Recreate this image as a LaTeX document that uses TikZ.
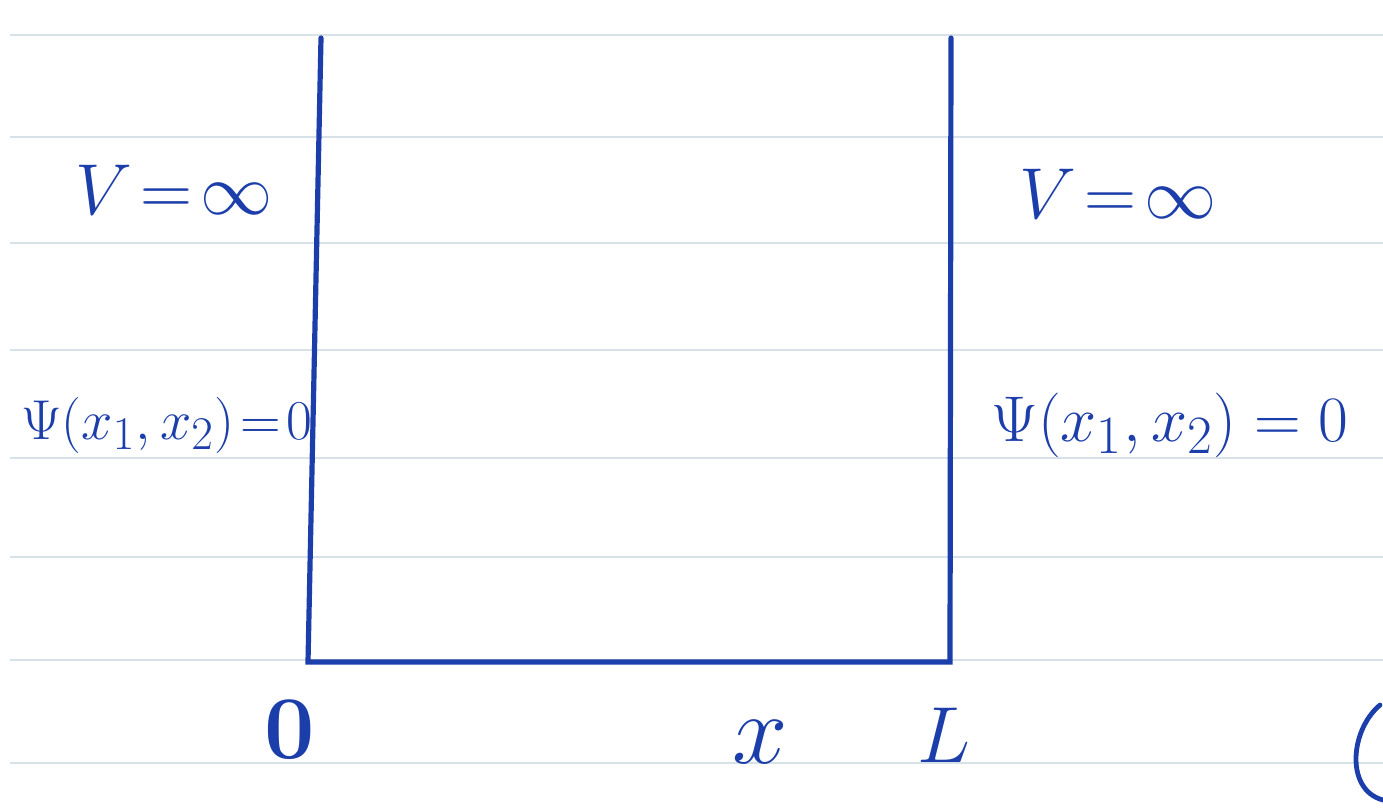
\documentclass[tikz,border=0pt]{standalone}
\usepackage{graphicx}
\usepackage{tikz}
\definecolor{ink}{RGB}{28,62,170}
\definecolor{rule}{RGB}{214,226,232}
\begin{document}
\begin{tikzpicture}[x=0.5pt,y=-0.5pt,
  wall/.style={ink,line width=2.6pt,line cap=round},
  paper/.style={rule,line width=1pt},
  lab/.style={ink,inner sep=0pt,anchor=center,font=\Huge}]
\fill[white] (0,0) rectangle (1383,811);
\useasboundingbox (0,0) rectangle (1383,811);
% notebook lines
\foreach \yy in {35,137,243,350,458,557,660,763}
  \draw[paper] (10,\yy) -- (1383,\yy);
% well
\coordinate (tl) at (321,38);
\coordinate (bl) at (308,662);
\coordinate (br) at (950,662);
\coordinate (tr) at (951,38);
\draw[wall] (tl) -- (bl) -- (br) -- (tr);
% labels
\node[lab] (vl) at (174,190) {\scalebox{1.45}{$V\!=\!\infty$}};
\node[lab] (vr) at (1118,194) {\scalebox{1.45}{$V\!=\!\infty$}};
\node[lab] (pl) at (167,425) {\scalebox{1.13}{$\Psi(x_1,x_2)\!=\!0$}};
\node[lab] (pr) at (1170,425) {\scalebox{1.3}{$\Psi(x_1,x_2)=0$}};
\node[lab] (o) at (290,730) {\scalebox{1.8}{$\mathbf{0}$}};
\node[lab] (xx) at (760,742) {\scalebox{2}{$x$}};
\node[lab] (ll) at (944,735) {\scalebox{1.6}{$L$}};
\draw[ink,line width=2.4pt,line cap=round] (1380,705) .. controls (1350,730) and (1345,790) .. (1383,800);
\end{tikzpicture}
\end{document}
